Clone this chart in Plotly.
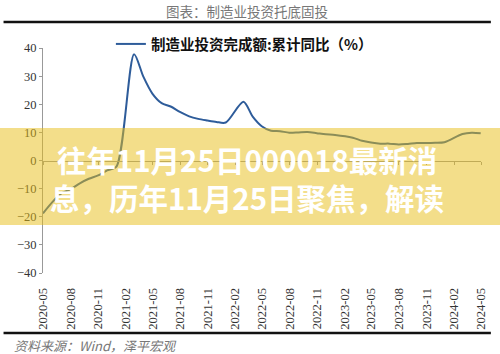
import plotly.graph_objects as go

# Month-end dates (cumulative Jan-Feb reported at end of February)
dates = [
    "2020-04-30", "2020-05-31", "2020-06-30", "2020-07-31", "2020-08-31", "2020-09-30",
    "2020-10-31", "2020-11-30", "2020-12-31",
    "2021-02-28", "2021-03-31", "2021-04-30", "2021-05-31", "2021-06-30", "2021-07-31",
    "2021-08-31", "2021-09-30", "2021-10-31", "2021-11-30", "2021-12-31",
    "2022-02-28", "2022-03-31", "2022-04-30", "2022-05-31", "2022-06-30", "2022-07-31",
    "2022-08-31", "2022-09-30", "2022-10-31", "2022-11-30", "2022-12-31",
    "2023-02-28", "2023-03-31", "2023-04-30", "2023-05-31", "2023-06-30", "2023-07-31",
    "2023-08-31", "2023-09-30", "2023-10-31", "2023-11-30", "2023-12-31",
    "2024-02-29", "2024-03-31", "2024-04-30",
]
values = [
    -18.8, -14.8, -11.7, -10.2, -8.1, -6.5, -5.3, -3.5, -2.2,
    37.8, 29.8, 23.8, 20.4, 19.2, 17.3, 15.7, 14.8, 14.2, 13.7, 13.5,
    20.9, 15.6, 12.2, 10.6, 10.4, 9.9, 10.0, 10.1, 9.7, 9.3, 9.1,
    8.1, 7.0, 6.4, 6.0, 6.0, 5.7, 5.9, 6.2, 6.2, 6.3, 6.5,
    9.4, 9.9, 9.7,
]
series_name = "制造业投资完成额:累计同比（%）"
title_text = "图表：制造业投资托底固投"
source_text = "资料来源：Wind，泽平宏观"
banner_line1 = "往年11月25日000018最新消"
banner_line2 = "息，历年11月25日聚焦，解读"
x_range = ["2020-04-30", "2024-05-01"]
y_range = [-40, 40]

serif = "Liberation Serif, Times New Roman, serif"
cjk = "Noto Sans CJK SC, sans-serif"

fig = go.Figure()
fig.add_trace(go.Scatter(
    x=dates, y=values, mode="lines", name="<b>" + series_name + "</b>",
    line=dict(color="#2E5C9A", width=2, shape="spline", smoothing=0.8),
))
# invisible trace to carry the zero-crossing axis
fig.add_trace(go.Scatter(
    x=dates, y=values, mode="lines", xaxis="x2", showlegend=False,
    line=dict(color="rgba(0,0,0,0)", width=0), hoverinfo="skip",
))

fig.update_layout(
    width=500, height=354,
    margin=dict(l=43, r=13, t=48, b=81),
    paper_bgcolor="white", plot_bgcolor="white",
    showlegend=True,
    legend=dict(
        x=0.155, y=(273 - 44) / 225, xanchor="left", yanchor="middle",
        orientation="h", bgcolor="rgba(0,0,0,0)",
        font=dict(family=cjk, size=14.5, color="#111"),
        itemwidth=30,
    ),
    xaxis=dict(
        type="date", range=x_range,
        tick0="2020-05-01", dtick="M3", tickformat="%Y-%m",
        tickangle=-90, showgrid=False, zeroline=False, showline=False,
        ticks="outside", ticklen=9, tickcolor="rgba(0,0,0,0)",
        tickfont=dict(family=serif, size=12.5, color="#333"),
    ),
    xaxis2=dict(
        type="date", range=x_range, overlaying="x", anchor="free", position=0.5,
        tick0="2020-05-01", dtick="M3", showticklabels=False,
        showgrid=False, zeroline=False, showline=True, linecolor="#999", linewidth=1,
        ticks="outside", ticklen=3, tickcolor="#999",
    ),
    yaxis=dict(
        range=y_range, dtick=10, showgrid=False, zeroline=False,
        showline=True, linecolor="#999", linewidth=1,
        ticks="outside", ticklen=3, tickcolor="#999",
        tickfont=dict(family=serif, size=12.5, color="#333"),
    ),
)

# title and rules
fig.add_annotation(xref="paper", yref="paper", x=(250 - 43) / 444, y=(273 - 11) / 225,
                   text=title_text, showarrow=False, xanchor="center", yanchor="middle",
                   font=dict(family=cjk, size=13.5, color="#777"))
fig.add_shape(type="line", xref="paper", yref="paper",
              x0=(3 - 43) / 444, x1=(497 - 43) / 444, y0=(273 - 22) / 225, y1=(273 - 22) / 225,
              line=dict(color="#111", width=2.5))
fig.add_shape(type="line", xref="paper", yref="paper",
              x0=(3 - 43) / 444, x1=(497 - 43) / 444, y0=(273 - 333) / 225, y1=(273 - 333) / 225,
              line=dict(color="#111", width=2.5))
fig.add_annotation(xref="paper", yref="paper", x=(12 - 43) / 444, y=(273 - 345) / 225,
                   text="<i>" + source_text + "</i>", showarrow=False, xanchor="left", yanchor="middle",
                   font=dict(family=cjk, size=13, color="#777"))

# banner overlay
fig.add_shape(type="rect", xref="paper", yref="paper", layer="above",
              x0=-0.2, x1=1.2, y0=(273 - 225) / 225, y1=(273 - 128) / 225,
              fillcolor="rgba(231,189,21,0.5)", line=dict(width=0))
fig.add_annotation(xref="paper", yref="paper", x=(250 - 43) / 444, y=(273 - 178) / 225,
                   text="<b>" + banner_line1 + "<br>" + banner_line2 + "</b>",
                   showarrow=False, xanchor="center", yanchor="middle", align="center",
                   font=dict(family=cjk, size=29.5, color="white"))

fig.write_html("out.html")
